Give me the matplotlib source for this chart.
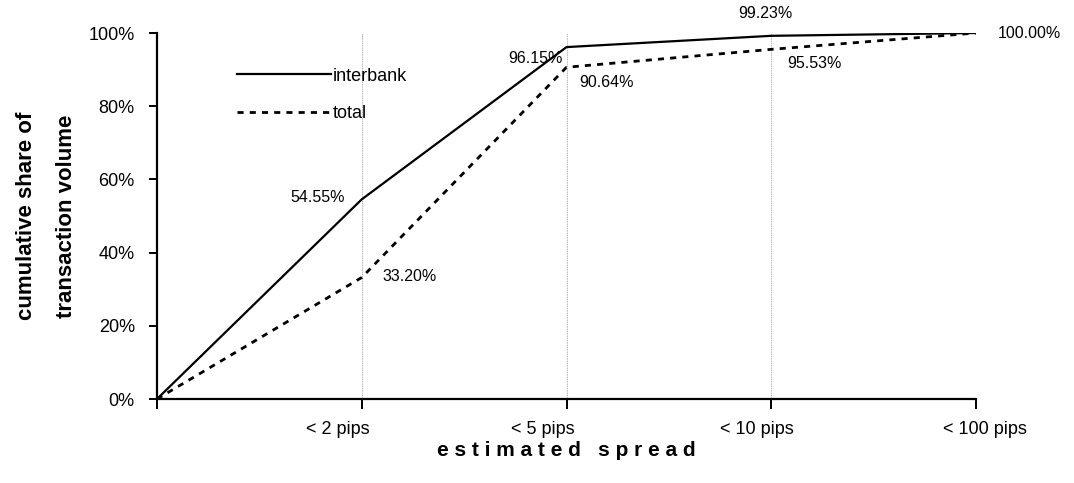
import matplotlib.pyplot as plt
from matplotlib.ticker import PercentFormatter

plt.rcParams['font.family'] = ['Liberation Sans', 'DejaVu Sans']

categories = ["", "< 2 pips", "< 5 pips", "< 10 pips", "< 100 pips"]
interbank = [0, 54.55, 96.15, 99.23, 100.00]
total = [0, 33.20, 90.64, 95.53, 100.00]

fig = plt.figure(figsize=(10.74, 4.83), dpi=100)
ax = fig.add_axes([157 / 1074, 1 - 399 / 483, (976 - 157) / 1074, (399 - 33) / 483])

x = list(range(len(categories)))
ax.plot(x, interbank, color='black', lw=1.6, label='interbank')
ax.plot(x, total, color='black', lw=2.0, linestyle=(0, (2.2, 2.2)), label='total')

ax.set_xlim(0, 4)
ax.set_ylim(0, 100)
ax.set_yticks([0, 20, 40, 60, 80, 100])
ax.yaxis.set_major_formatter(PercentFormatter(decimals=0))
ax.set_xticks(x)
ax.set_xticklabels([])

# category labels sit a bit off their ticks, as in the original
for xi, name, dx in zip(x, categories, [0, -24, -24, -14, 9]):
    if name:
        ax.annotate(name, (xi, 0), xycoords=('data', 'axes fraction'), xytext=(dx, -31),
                    textcoords='offset pixels', ha='center', va='center', fontsize=13)

for xi in x[1:]:
    ax.axvline(xi, color='#b8b8b8', lw=0.8, linestyle=(0, (1, 0.6)), zorder=0)

for s in ['top', 'right']:
    ax.spines[s].set_visible(False)
ax.spines['left'].set_linewidth(1.6)
ax.spines['bottom'].set_linewidth(1.6)
ax.tick_params(axis='y', direction='out', length=6, width=1.4, labelsize=13, pad=10)
ax.tick_params(axis='x', direction='out', length=7, width=1.4)

ax.set_xlabel('e s t i m a t e d   s p r e a d', fontsize=15, fontweight='bold', labelpad=20)
ax.set_ylabel('cumulative share of\ntransaction volume', fontsize=16, fontweight='bold',
              labelpad=8, linespacing=2.2)

# value labels: (series, index, offset px, ha)
labels = [
    (interbank, 1, (-17, 2), 'right'),
    (total, 1, (21, 1), 'left'),
    (interbank, 2, (-4, -11), 'right'),
    (total, 2, (13, -15), 'left'),
    (interbank, 3, (-6, 22), 'center'),
    (total, 3, (43, -14), 'center'),
    (interbank, 4, (22, 0), 'left'),
]
for ser, i, off, ha in labels:
    ax.annotate(f"{ser[i]:.2f}%", (i, ser[i]), xytext=off, textcoords='offset pixels',
                ha=ha, va='center', fontsize=11.5, annotation_clip=False)

leg = ax.legend(loc='upper left', bbox_to_anchor=(0.078, 0.95), frameon=False, fontsize=13,
                handlelength=5.2, handletextpad=0.1, labelspacing=1.15)

fig.savefig('out.png', dpi=100)
